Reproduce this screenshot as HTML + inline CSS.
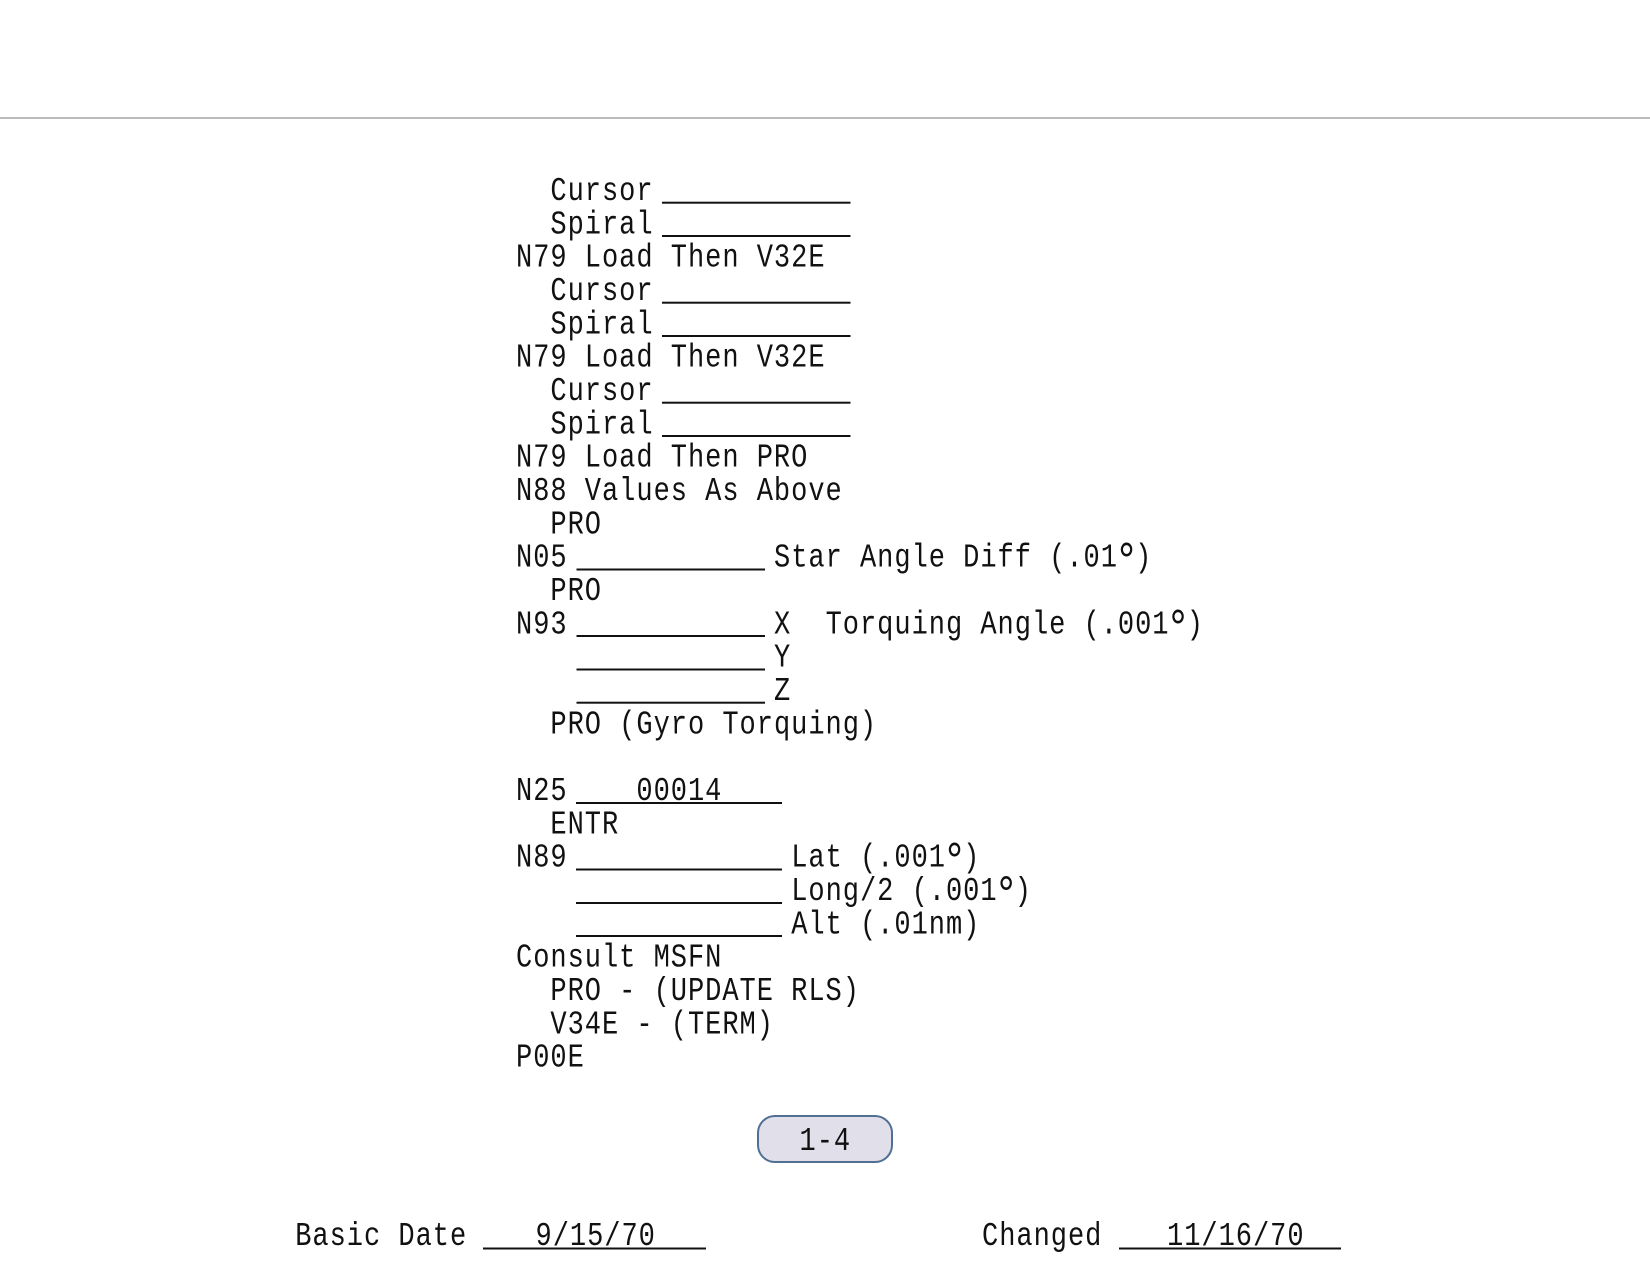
<!DOCTYPE html>
<html>
<head>
<meta charset="utf-8">
<style>
html,body{margin:0;padding:0;background:#fff;width:1650px;height:1275px;overflow:hidden}
svg{display:block}
text{font-family:"Liberation Mono",monospace;font-size:33px;letter-spacing:1.18px;fill:#111}
tspan.d{font-size:50px;letter-spacing:-4.51px}
rect.u{fill:#111}
</style>
</head>
<body>
<svg width="1650" height="1275" viewBox="0 0 1650 1275" xmlns="http://www.w3.org/2000/svg">
<rect x="0" y="117" width="1650" height="2" fill="#bbbbbb"/>

<rect x="758" y="1116" width="134" height="46" rx="17" ry="17" fill="#e0dfea" stroke="#4f6f93" stroke-width="2"/>

<g transform="translate(1,0)">
<text transform="translate(549.4,200) scale(.82,1)">Cursor</text>
<text transform="translate(549.4,233.3) scale(.82,1)">Spiral</text>
<text transform="translate(515,266.7) scale(.82,1)">N79 Load Then V32E</text>
<text transform="translate(549.4,300) scale(.82,1)">Cursor</text>
<text transform="translate(549.4,333.3) scale(.82,1)">Spiral</text>
<text transform="translate(515,366.7) scale(.82,1)">N79 Load Then V32E</text>
<text transform="translate(549.4,400) scale(.82,1)">Cursor</text>
<text transform="translate(549.4,433.3) scale(.82,1)">Spiral</text>
<text transform="translate(515,466.7) scale(.82,1)">N79 Load Then PRO</text>
<text transform="translate(515,500) scale(.82,1)">N88 Values As Above</text>
<text transform="translate(549.4,533.3) scale(.82,1)">PRO</text>
<text transform="translate(515,566.7) scale(.82,1)">N05</text>
<text transform="translate(773,566.7) scale(.82,1)">Star Angle Diff (.01<tspan class="d" dx="-4.51" dy="9.5">°</tspan><tspan dy="-9.5">)</tspan></text>
<text transform="translate(549.4,600) scale(.82,1)">PRO</text>
<text transform="translate(515,633.3) scale(.82,1)">N93</text>
<text transform="translate(773,633.3) scale(.82,1)">X</text>
<text transform="translate(824.6,633.3) scale(.82,1)">Torquing Angle (.001<tspan class="d" dx="-4.51" dy="9.5">°</tspan><tspan dy="-9.5">)</tspan></text>
<text transform="translate(773,666.7) scale(.82,1)">Y</text>
<text transform="translate(773,700) scale(.82,1)">Z</text>
<text transform="translate(549.4,733.3) scale(.82,1)">PRO (Gyro Torquing)</text>
<text transform="translate(515,800) scale(.82,1)">N25</text>
<text transform="translate(635.4,800) scale(.82,1)">00014</text>
<text transform="translate(549.4,833.3) scale(.82,1)">ENTR</text>
<text transform="translate(515,866.7) scale(.82,1)">N89</text>
<text transform="translate(790.2,866.7) scale(.82,1)">Lat (.001<tspan class="d" dx="-4.51" dy="9.5">°</tspan><tspan dy="-9.5">)</tspan></text>
<text transform="translate(790.2,900) scale(.82,1)">Long/2 (.001<tspan class="d" dx="-4.51" dy="9.5">°</tspan><tspan dy="-9.5">)</tspan></text>
<text transform="translate(790.2,933.3) scale(.82,1)">Alt (.01nm)</text>
<text transform="translate(515,966.7) scale(.82,1)">Consult MSFN</text>
<text transform="translate(549.4,1000) scale(.82,1)">PRO - (UPDATE RLS)</text>
<text transform="translate(549.4,1033.3) scale(.82,1)">V34E - (TERM)</text>
<text transform="translate(515,1066.7) scale(.82,1)">P00E</text>
<text transform="translate(798.5,1150) scale(.82,1)">1-4</text>
<text transform="translate(294.2,1245) scale(.82,1)">Basic Date</text>
<text transform="translate(534.5,1245) scale(.82,1)">9/15/70</text>
<text transform="translate(981,1245) scale(.82,1)">Changed</text>
<text transform="translate(1166,1245) scale(.82,1)">11/16/70</text>
</g>

<rect class="u" x="662" y="201.7" width="188.5" height="2"/>
<rect class="u" x="662" y="235" width="188.5" height="2"/>
<rect class="u" x="662" y="301.7" width="188.5" height="2"/>
<rect class="u" x="662" y="335" width="188.5" height="2"/>
<rect class="u" x="662" y="401.7" width="188.5" height="2"/>
<rect class="u" x="662" y="435" width="188.5" height="2"/>
<rect class="u" x="576.5" y="568.5" width="188.5" height="2"/>
<rect class="u" x="576.5" y="635" width="188.5" height="2"/>
<rect class="u" x="576.5" y="668.5" width="188.5" height="2"/>
<rect class="u" x="576.5" y="701.7" width="188.5" height="2"/>
<rect class="u" x="576" y="802" width="206" height="2"/>
<rect class="u" x="576" y="868.5" width="206" height="2"/>
<rect class="u" x="576" y="902" width="206" height="2"/>
<rect class="u" x="576" y="935" width="206" height="2"/>

<rect class="u" x="483" y="1247.5" width="223" height="2"/>
<rect class="u" x="1119" y="1247.5" width="222" height="2"/>
</svg>
</body>
</html>
